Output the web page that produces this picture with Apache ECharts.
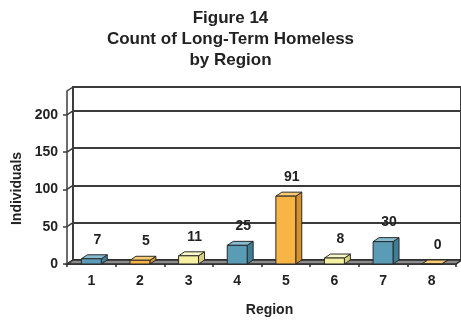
<!DOCTYPE html>
<html>
<head>
<meta charset="utf-8">
<script src="https://cdn.jsdelivr.net/npm/echarts@6/dist/echarts.min.js"></script>
<style>
html,body{margin:0;padding:0;background:#fff;}
#chart{width:461px;height:322px;}
</style>
</head>
<body>
<div id="chart"></div>
<script>
var titleLines = ['Figure 14', 'Count of Long-Term Homeless', 'by Region'];
var categories = ['1', '2', '3', '4', '5', '6', '7', '8'];
var values = [7, 5, 11, 25, 91, 8, 30, 0];
var barColors = ['blue', 'orange', 'yellow', 'blue', 'orange', 'yellow', 'blue', 'orange'];
var yTicks = [0, 50, 100, 150, 200];
var yMax = 232;
var yName = 'Individuals';
var xName = 'Region';

var palette = {
  blue:   {front: '#5a9cb6', top: '#85bcd2', side: '#3f7d96'},
  orange: {front: '#f8b546', top: '#fccb70', side: '#d6912c'},
  yellow: {front: '#f6f1a2', top: '#fbf7c4', side: '#d8d07c'}
};
var DX = 6, DY = -4;
var FONT = '"Liberation Sans", Arial, sans-serif';

var chart = echarts.init(document.getElementById('chart'), null, {renderer: 'canvas'});

function barItem(params, api) {
  var idx = api.value(0), val = api.value(1);
  var top = api.coord([idx, val]);
  var base = api.coord([idx, 0]);
  var bw = api.size([1, 0])[0] * 0.41;
  var x0 = top[0] - bw / 2, x1 = x0 + bw, yt = top[1], yb = base[1];
  var c = palette[barColors[params.dataIndex]];
  var stroke = {stroke: '#2a2a2a', lineWidth: 1};
  return {
    type: 'group',
    children: [
      {type: 'polygon', shape: {points: [[x1, yt], [x1 + DX, yt + DY], [x1 + DX, yb + DY], [x1, yb]]},
       style: Object.assign({fill: c.side}, stroke)},
      {type: 'polygon', shape: {points: [[x0, yt], [x1, yt], [x1 + DX, yt + DY], [x0 + DX, yt + DY]]},
       style: Object.assign({fill: c.top}, stroke)},
      {type: 'rect', shape: {x: x0, y: yt, width: bw, height: yb - yt},
       style: Object.assign({fill: c.front}, stroke)},
      {type: 'text', style: {text: String(val), x: top[0] + DX, y: yt - 19,
        align: 'center', verticalAlign: 'middle', fill: '#222',
        font: 'bold 14px ' + FONT}}
    ]
  };
}

function frameItem(params, api) {
  var cs = params.coordSys;
  var l = cs.x, r = cs.x + cs.width;
  var y0 = api.coord([0, 0])[1];
  var kids = [];
  kids.push({type: 'polygon', shape: {points: [[l, y0], [r, y0], [r + DX, y0 + DY], [l + DX, y0 + DY]]},
    style: {fill: '#8c8c8c', stroke: '#2a2a2a', lineWidth: 1.5}});
  var lv = yTicks.concat([yMax]);
  for (var i = 0; i < lv.length; i++) {
    var yy = api.coord([0, lv[i]])[1];
    kids.push({type: 'line', shape: {x1: l, y1: yy, x2: l + DX, y2: yy + DY},
      style: {stroke: '#3c3c3c', lineWidth: 1.5}});
  }
  return {type: 'group', children: kids};
}

var option = {
  animation: false,
  title: {
    text: titleLines.join('\n'),
    left: 'center', top: 3,
    textStyle: {fontFamily: FONT, fontWeight: 'bold', fontSize: 17, lineHeight: 21, color: '#222'}
  },
  grid: [
    {left: 67, right: 5, top: 91, bottom: 58},
    {left: 67 + DX, right: -20, top: 91 + DY, bottom: 58 - DY, show: true, borderColor: '#3c3c3c', borderWidth: 2, backgroundColor: 'transparent'}
  ],
  xAxis: [
    {type: 'category', gridIndex: 0, data: categories, boundaryGap: true,
     name: xName, nameLocation: 'middle', nameGap: 39,
     nameTextStyle: {fontFamily: FONT, fontWeight: 'bold', fontSize: 14, color: '#222', padding: [0, 0, 0, 16]},
     axisLine: {show: true, lineStyle: {color: '#2a2a2a', width: 1.5}},
     axisTick: {show: true, alignWithLabel: false, length: 3, inside: false, lineStyle: {color: '#2a2a2a', width: 1.5}},
     axisLabel: {margin: 10, fontFamily: FONT, fontWeight: 'bold', fontSize: 14, color: '#222'}},
    {type: 'category', gridIndex: 1, data: categories, show: false}
  ],
  yAxis: [
    {type: 'value', gridIndex: 0, min: 0, max: yMax, interval: 50,
     name: yName, nameLocation: 'middle', nameGap: 40, nameRotate: 90,
     nameTextStyle: {fontFamily: FONT, fontWeight: 'bold', fontSize: 14, color: '#222', padding: [0, 22, 0, 0]},
     axisLine: {show: true, lineStyle: {color: '#3c3c3c', width: 1.5}},
     axisTick: {show: true, length: 4, lineStyle: {color: '#3c3c3c', width: 1.5}},
     axisLabel: {margin: 9, showMaxLabel: false, fontFamily: FONT, fontWeight: 'bold', fontSize: 14, color: '#222'},
     splitLine: {show: false}},
    {type: 'value', gridIndex: 1, min: 0, max: yMax, interval: 50,
     axisLine: {show: true, lineStyle: {color: '#3c3c3c', width: 1.5}},
     axisTick: {show: false}, axisLabel: {show: false},
     splitLine: {show: true, lineStyle: {color: '#3c3c3c', width: 2}}}
  ],
  series: [
    {type: 'custom', xAxisIndex: 0, yAxisIndex: 0, renderItem: frameItem, data: [[0, 0]], z: 1, silent: true},
    {type: 'custom', xAxisIndex: 0, yAxisIndex: 0, renderItem: barItem, z: 3,
     data: values.map(function (v, i) { return [i, v]; })}
  ]
};
chart.setOption(option);
</script>
</body>
</html>
